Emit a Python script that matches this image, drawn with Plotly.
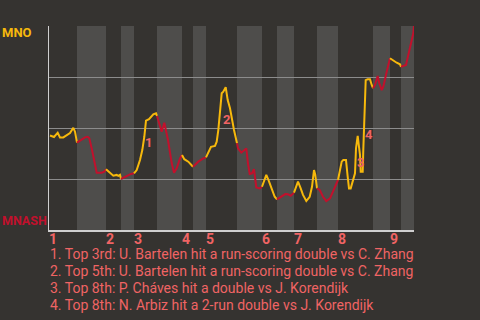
import plotly.graph_objects as go

# game progress (arbitrary play-time units) and MNO win probability (%)
progress = [1, 4, 5, 8.7, 11, 14.3, 18, 21, 24.3, 26, 28, 31, 36, 38.7, 40.3, 42.7, 45.3, 47.7, 52.7, 55.3,
            57, 61, 64.3, 67.7, 69.3, 71, 72, 77.7, 82, 85, 87.7, 91, 93.3, 95.3, 97, 100, 104.3, 107, 108, 111,
            112.7, 115.3, 119, 122.7, 125, 127.7, 131, 133, 135.3, 139.3, 144, 149.3, 154.3, 157, 159.3, 162, 166, 167.7, 169.3, 171,
            172.7, 174.3, 176.7, 178.7, 181, 185, 188, 189, 192.3, 195.7, 197.3, 199, 200.7, 203, 205, 207.3, 210.7, 213, 215, 217.3,
            219.7, 222.3, 225.7, 228, 232.3, 236.3, 239, 241.7, 245, 246.7, 249, 251.7, 254, 257.3, 260.7, 263, 265, 266.3, 268, 270.7,
            274, 277.3, 281, 284.3, 289, 291, 292.7, 294.3, 297, 298.7, 300, 301.7, 304.3, 306, 307, 308.7, 310, 311, 311.7, 313.7,
            314.3, 315.3, 316, 316.7, 318.7, 321, 322.7, 324, 326, 328.7, 330.3, 332.7, 334.3, 337.7, 341, 344.3, 347.7, 351, 352, 357,
            359.3, 362, 364.3, 365]
mno_win = [46.3, 45.7, 45.6, 47.7, 45.4, 45.4, 46.6, 47.5, 50.1, 48.2, 42.8, 43.8, 45.4, 45.7, 45.0, 40.0, 33.5, 28.1, 28.1, 28.6,
           29.8, 28.1, 26.6, 27.0, 26.5, 27.0, 25.0, 26.5, 27.5, 27.8, 29.4, 34.3, 39.2, 45.7, 53.6, 54.3, 56.7, 57.2, 55.9, 50.6,
           48.2, 52.6, 44.1, 32.8, 28.1, 30.2, 35.1, 36.8, 34.7, 33.5, 31.0, 33.5, 35.1, 35.6, 38.4, 40.8, 41.2, 43.3, 49.0, 57.2,
           67.0, 67.8, 70.0, 63.7, 59.7, 49.0, 42.5, 40.0, 37.9, 39.2, 40.0, 32.7, 27.5, 27.8, 29.8, 20.9, 20.4, 21.2, 23.7, 27.0,
           24.2, 20.4, 16.3, 15.0, 16.3, 17.6, 17.5, 16.8, 18.3, 20.4, 23.7, 20.4, 17.2, 14.2, 16.3, 21.2, 29.4, 27.0, 20.4, 19.6,
           16.3, 14.2, 15.5, 19.6, 24.5, 28.6, 33.5, 34.3, 34.3, 26.1, 20.4, 20.4, 24.5, 27.8, 40.0, 46.1, 40.8, 36.8, 28.6, 28.6,
           39.2, 50.6, 61.3, 73.5, 73.9, 73.9, 71.1, 69.5, 71.1, 75.5, 71.9, 68.6, 70.2, 77.6, 84.2, 83.0, 82.0, 81.2, 80.0, 80.9,
           85.8, 91.5, 96.4, 100.0]

# half-inning boundaries (same progress units)
half_bounds = [0, 28, 57, 72, 85, 108, 133, 144, 157, 188, 213, 228, 245, 268, 289, 324, 341, 352, 365]
inning_labels = ["1", "2", "3", "4", "5", "6", "7", "8", "9"]

event_ids = ["1", "2", "3", "4"]
event_x = [99, 177, 311.5, 320.3]
event_y = [43.1, 54.4, 32.9, 46.9]
notes = [
    "1. Top 3rd: U. Bartelen hit a run-scoring double vs C. Zhang",
    "2. Top 5th: U. Bartelen hit a run-scoring double vs C. Zhang",
    "3. Top 8th: P. Cháves hit a double vs J. Korendijk",
    "4. Top 8th: N. Arbiz hit a 2-run double vs J. Korendijk",
]

BG = "#353330"
BAND = "#4e4d4b"
YEL = "#f7b90c"
RED = "#c2102c"
PINK = "#f06464"
FONT = "Roboto"

fig = go.Figure()
shapes = []
for i in range(len(half_bounds) - 1):
    s, e = half_bounds[i], half_bounds[i + 1]
    if i % 2 == 1:
        shapes.append(dict(type="rect", xref="x", yref="paper", x0=s, x1=e, y0=0, y1=1,
                           fillcolor=BAND, line_width=0, layer="below"))
    xs = [x for x in progress if s <= x <= e]
    ys = [y for x, y in zip(progress, mno_win) if s <= x <= e]
    fig.add_trace(go.Scatter(x=xs, y=ys, mode="lines", line=dict(color=YEL if i % 2 == 0 else RED, width=2),
                             hoverinfo="skip", showlegend=False))

annotations = []
for k, lab in enumerate(inning_labels):
    annotations.append(dict(x=half_bounds[2 * k], y=-0.044, xref="x", yref="paper", text="<b>%s</b>" % lab,
                            showarrow=False, xanchor="left", yanchor="middle", xshift=-2,
                            font=dict(family=FONT, size=14, color=PINK)))
for t, x, y in zip(event_ids, event_x, event_y):
    annotations.append(dict(x=x, y=y, xref="x", yref="y", text="<b>%s</b>" % t, showarrow=False,
                            font=dict(family=FONT, size=13, color=PINK)))
for j, n in enumerate(notes):
    annotations.append(dict(x=0, y=-0.1176 - 0.0833 * j, xref="paper", yref="paper", text=n, showarrow=False,
                            xanchor="left", yanchor="middle", xshift=-1,
                            font=dict(family=FONT, size=14, color=PINK)))
annotations.append(dict(x=-0.1288, y=0.966, xref="paper", yref="paper", text="<b>MNO</b>", showarrow=False,
                        xanchor="left", yanchor="middle", xshift=-2,
                        font=dict(family=FONT, size=13, color=YEL)))
annotations.append(dict(x=-0.1288, y=0.049, xref="paper", yref="paper", text="<b>MNASH</b>", showarrow=False,
                        xanchor="left", yanchor="middle", xshift=-2,
                        font=dict(family=FONT, size=12.5, color=RED)))

fig.update_layout(
    width=480, height=320, margin=dict(l=49, r=66, t=26, b=90),
    paper_bgcolor=BG, plot_bgcolor=BG, shapes=shapes, annotations=annotations,
    xaxis=dict(range=[0, 365], showgrid=False, zeroline=False, showticklabels=False, fixedrange=True,
               showline=True, linecolor="#cfcfcf", linewidth=2),
    yaxis=dict(range=[0, 100], tickvals=[0, 25, 50, 75, 100], showticklabels=False, gridcolor="#8c8c8c",
               gridwidth=1, zeroline=False, showline=True, linecolor="#cfcfcf", linewidth=1, fixedrange=True),
)
fig.write_html("out.html")
